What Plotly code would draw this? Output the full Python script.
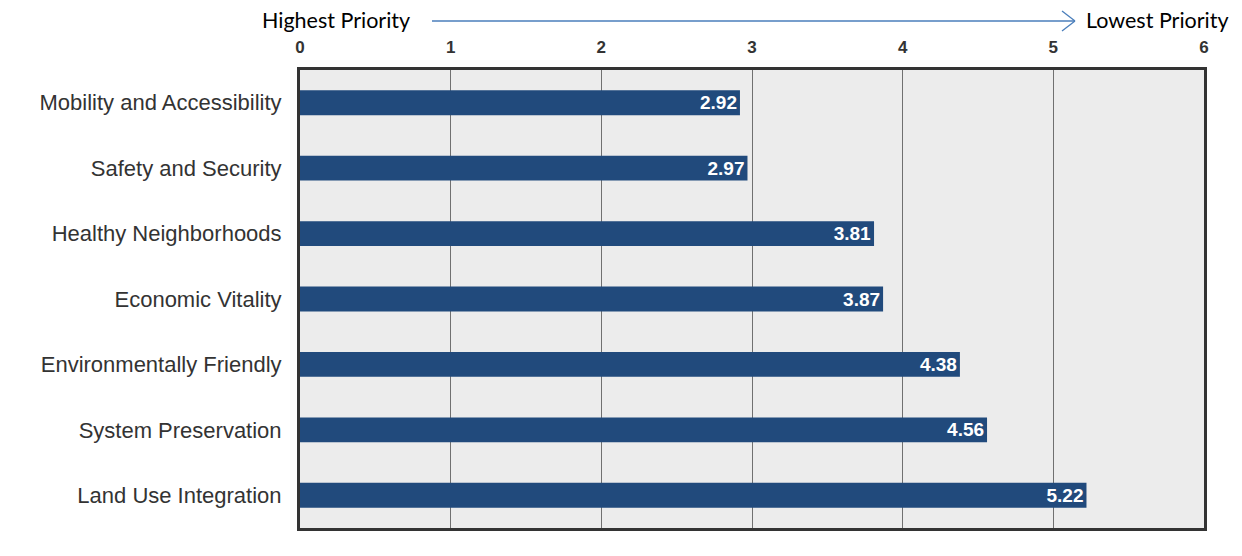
import plotly.graph_objects as go

categories = ["Mobility and Accessibility", "Safety and Security", "Healthy Neighborhoods",
              "Economic Vitality", "Environmentally Friendly", "System Preservation",
              "Land Use Integration"]
values = [2.92, 2.97, 3.81, 3.87, 4.38, 4.56, 5.22]
tick_vals = [0, 1, 2, 3, 4, 5, 6]

fig = go.Figure(go.Bar(
    x=values, y=categories, orientation="h",
    marker=dict(color="#214a7c", line=dict(width=0)),
    width=0.38,
    text=[f"{v:.2f}" for v in values],
    textposition="inside", insidetextanchor="end", constraintext="none",
    textfont=dict(family="Liberation Sans, Arial", size=19, color="white", weight="bold"),
    cliponaxis=False,
))

fig.update_layout(
    width=1242, height=556,
    margin=dict(l=300, r=38, t=70, b=28, autoexpand=False),
    paper_bgcolor="white", plot_bgcolor="#ececec",
    showlegend=False,
    xaxis=dict(range=[0, 6], side="top", tickvals=tick_vals, showgrid=True, automargin=False,
               gridcolor="#707070", gridwidth=1, zeroline=False,
               tickfont=dict(family="Liberation Sans, Arial", size=17, color="#333333", weight="bold"),
               ticklabelstandoff=7, showline=True, mirror=True, linecolor="#333333", linewidth=3),
    yaxis=dict(categoryorder="array", categoryarray=categories, autorange="reversed", automargin=False,
               tickfont=dict(family="Liberation Sans, Arial", size=22, color="#333333"),
               ticklabelstandoff=11, showline=True, mirror=True, linecolor="#333333", linewidth=3,
               showgrid=False, zeroline=False),
)

arrow_col = "#4a7ebb"
yc = (556 - 28 - 21) / 458
fig.add_shape(type="line", xref="paper", yref="paper", x0=(432-300)/904, x1=(1075-300)/904,
              y0=yc, y1=yc, line=dict(color=arrow_col, width=1.3))
fig.add_shape(type="line", xref="paper", yref="paper", x0=(1062-300)/904, x1=(1075-300)/904,
              y0=yc + 10/458, y1=yc, line=dict(color=arrow_col, width=1.3))
fig.add_shape(type="line", xref="paper", yref="paper", x0=(1062-300)/904, x1=(1075-300)/904,
              y0=yc - 10/458, y1=yc, line=dict(color=arrow_col, width=1.3))

fig.add_annotation(text="Highest Priority", xref="paper", yref="paper",
                   x=(412-300)/904, y=(556-28-20)/458, xanchor="right", yanchor="middle",
                   showarrow=False, font=dict(family="Lato, Open Sans", size=21.5, color="black"))
fig.add_annotation(text="Lowest Priority", xref="paper", yref="paper",
                   x=(1084-300)/904, y=(556-28-20)/458, xanchor="left", yanchor="middle",
                   showarrow=False, font=dict(family="Lato, Open Sans", size=21.5, color="black"))

fig.write_html("out.html", config={"displayModeBar": False},
               post_script="document.body.style.margin='0';document.body.style.padding='0';")
